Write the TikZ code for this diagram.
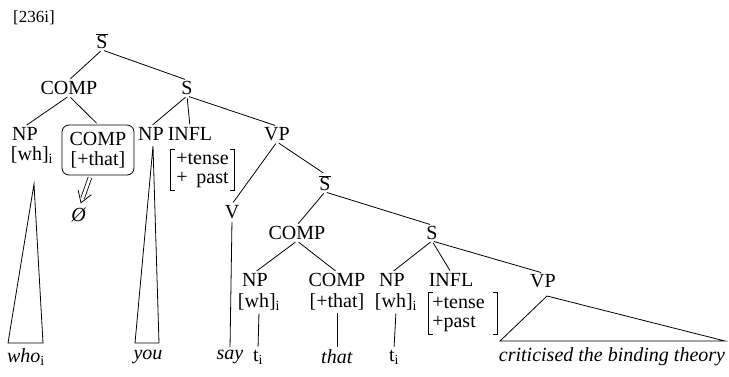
\documentclass[tikz,border=0pt]{standalone}
\usepackage{fontspec}
\setmainfont{Liberation Serif}
\usetikzlibrary{calc}
\tikzset{
  lab/.style={inner sep=1pt, font=\fontsize{20}{22}\selectfont},
  feat/.style={inner sep=0pt, font=\fontsize{20}{22}\selectfont},
  edge/.style={line width=0.8pt, shorten <=2pt, shorten >=2pt},
  tri/.style={line width=0.8pt},
  brk/.style={line width=0.9pt},
  dbl/.style={line width=0.8pt, double, double distance=2.8pt},
}
\begin{document}
\begin{tikzpicture}[x=1pt,y=-1pt]
\useasboundingbox (0,0) rectangle (729,376);
% title
\node[lab, font=\fontsize{17}{19}\selectfont] (title) at (34,18) {[236i]};
% upper tree
\node[lab] (sbar1) at (102,41) {$\overline{\textrm{S}}$};
\node[lab] (comp1) at (69,88) {COMP};
\node[lab] (s1) at (187,88) {S};
\node[lab] (np1) at (25,134) {NP};
\node[lab] (wh1) at (32,155) {[wh]\textsubscript{i}};
\node[lab, draw, rounded corners=7pt, line width=0.8pt, minimum width=72pt, minimum height=50pt, align=center] (box) at (98,150) {COMP\\[-2pt][+that]};
\node[lab] (empty) at (79,215) {\textit{Ø}};
\node[lab] (np2) at (151,134) {NP};
\node[lab] (infl1) at (190,134) {INFL};
\node[feat, minimum width=63pt, minimum height=40pt] (feat1) at (202.5,170) {\begin{tabular}{@{}l@{}r@{}}+&tense\\[-3pt]+&past\end{tabular}};
\node[lab] (vp1) at (277,134) {VP};
\node[lab] (v) at (232,212) {V};
\node[lab] (sbar2) at (325,183) {$\overline{\textrm{S}}$};
\node[lab] (comp2) at (297,233) {COMP};
\node[lab] (s2) at (432,233) {S};
\node[lab] (np3) at (255,280) {NP};
\node[lab] (wh3) at (259,302) {[wh]\textsubscript{i}};
\node[lab] (comp3) at (337,280) {COMP};
\node[lab] (that3) at (337,302) {[+that]};
\node[lab] (np4) at (392,280) {NP};
\node[lab] (wh4) at (396,302) {[wh]\textsubscript{i}};
\node[lab] (infl2) at (451,280) {INFL};
\node[feat, minimum width=68pt, minimum height=41pt] (feat2) at (463,313.5) {\begin{tabular}{@{}l@{\hspace{9pt}}}+tense\\[-3pt]+past\end{tabular}};
\node[lab] (vp2) at (543,281) {VP};
% terminals
\node[lab] (who) at (26,357) {\textit{who}\textsubscript{i}};
\node[lab] (you) at (148,357) {\textit{you}};
\node[lab] (say) at (230,357) {\textit{say}};
\node[lab] (t1) at (258,357) {t\textsubscript{i}};
\node[lab] (that) at (337,357) {\textit{that}};
\node[lab] (t2) at (394,357) {t\textsubscript{i}};
\node[lab] (crit) at (612,357) {\textit{criticised the binding theory}};
% brackets
\draw[brk] ([xshift=4pt]feat1.north west) -| (feat1.south west) -- ++(4pt,0);
\draw[brk] ([xshift=-4pt]feat1.north east) -| (feat1.south east) -- ++(-4pt,0);
\draw[brk] ([xshift=4pt]feat2.north west) -| (feat2.south west) -- ++(4pt,0);
\draw[brk] ([xshift=-4pt]feat2.north east) -| (feat2.south east) -- ++(-4pt,0);
% triangle corners
\coordinate (whoA) at (34,184);
\coordinate (whoL) at (8,343);
\coordinate (whoR) at (43,343);
\coordinate (youA) at (153,146);
\coordinate (youL) at (135,343);
\coordinate (youR) at (159,343);
\coordinate (vpA) at (547,296);
\coordinate (vpL) at (500,341);
\coordinate (vpR) at (725,341);
% edges
\draw[edge] (sbar1.south) -- (comp1.north);
\draw[edge] (sbar1.south) -- (s1.north);
\draw[edge] (comp1.south) -- (np1.north);
\draw[edge] (comp1.south) -- (box.north);
\draw[edge] (s1.south) -- (np2.north);
\draw[edge] (s1.south) -- (infl1.north);
\draw[edge] (s1.south) -- (vp1.north);
\draw[edge] (vp1.south) -- (v.north);
\draw[edge] (vp1.south) -- (sbar2.north);
\draw[edge] (v.south) -- (say.north);
\draw[edge] (sbar2.south) -- (comp2.north);
\draw[edge] (sbar2.south) -- (s2.north);
\draw[edge] (comp2.south) -- (np3.north);
\draw[edge] (comp2.south) -- (comp3.north);
\draw[edge] (wh3.south) -- (t1.north);
\draw[edge] (that3.south) -- (that.north);
\draw[edge] (s2.south) -- (np4.north);
\draw[edge] (s2.south) -- (infl2.north);
\draw[edge] (s2.south) -- (vp2.north);
\draw[edge] (wh4.south) -- (t2.north);
% double arrow from COMP box to the empty element
\coordinate (arS) at ([xshift=-8pt,yshift=-2pt]box.south);
\coordinate (arE) at ([xshift=2pt,yshift=4pt]empty.north);
\coordinate (arB) at ($(arE)!11pt!(arS)$);
\draw[dbl] (arS) -- ($(arE)!5pt!(arS)$);
\draw[line width=0.8pt, line join=miter] ($(arB)!7pt!90:(arE)$) -- (arE) -- ($(arB)!7pt!-90:(arE)$);
% triangles
\draw[tri] (whoA) -- (whoL) -- (whoR) -- cycle;
\draw[tri] (youA) -- (youL) -- (youR) -- cycle;
\draw[tri] (vpA) -- (vpL) -- (vpR) -- cycle;
\end{tikzpicture}
\end{document}
